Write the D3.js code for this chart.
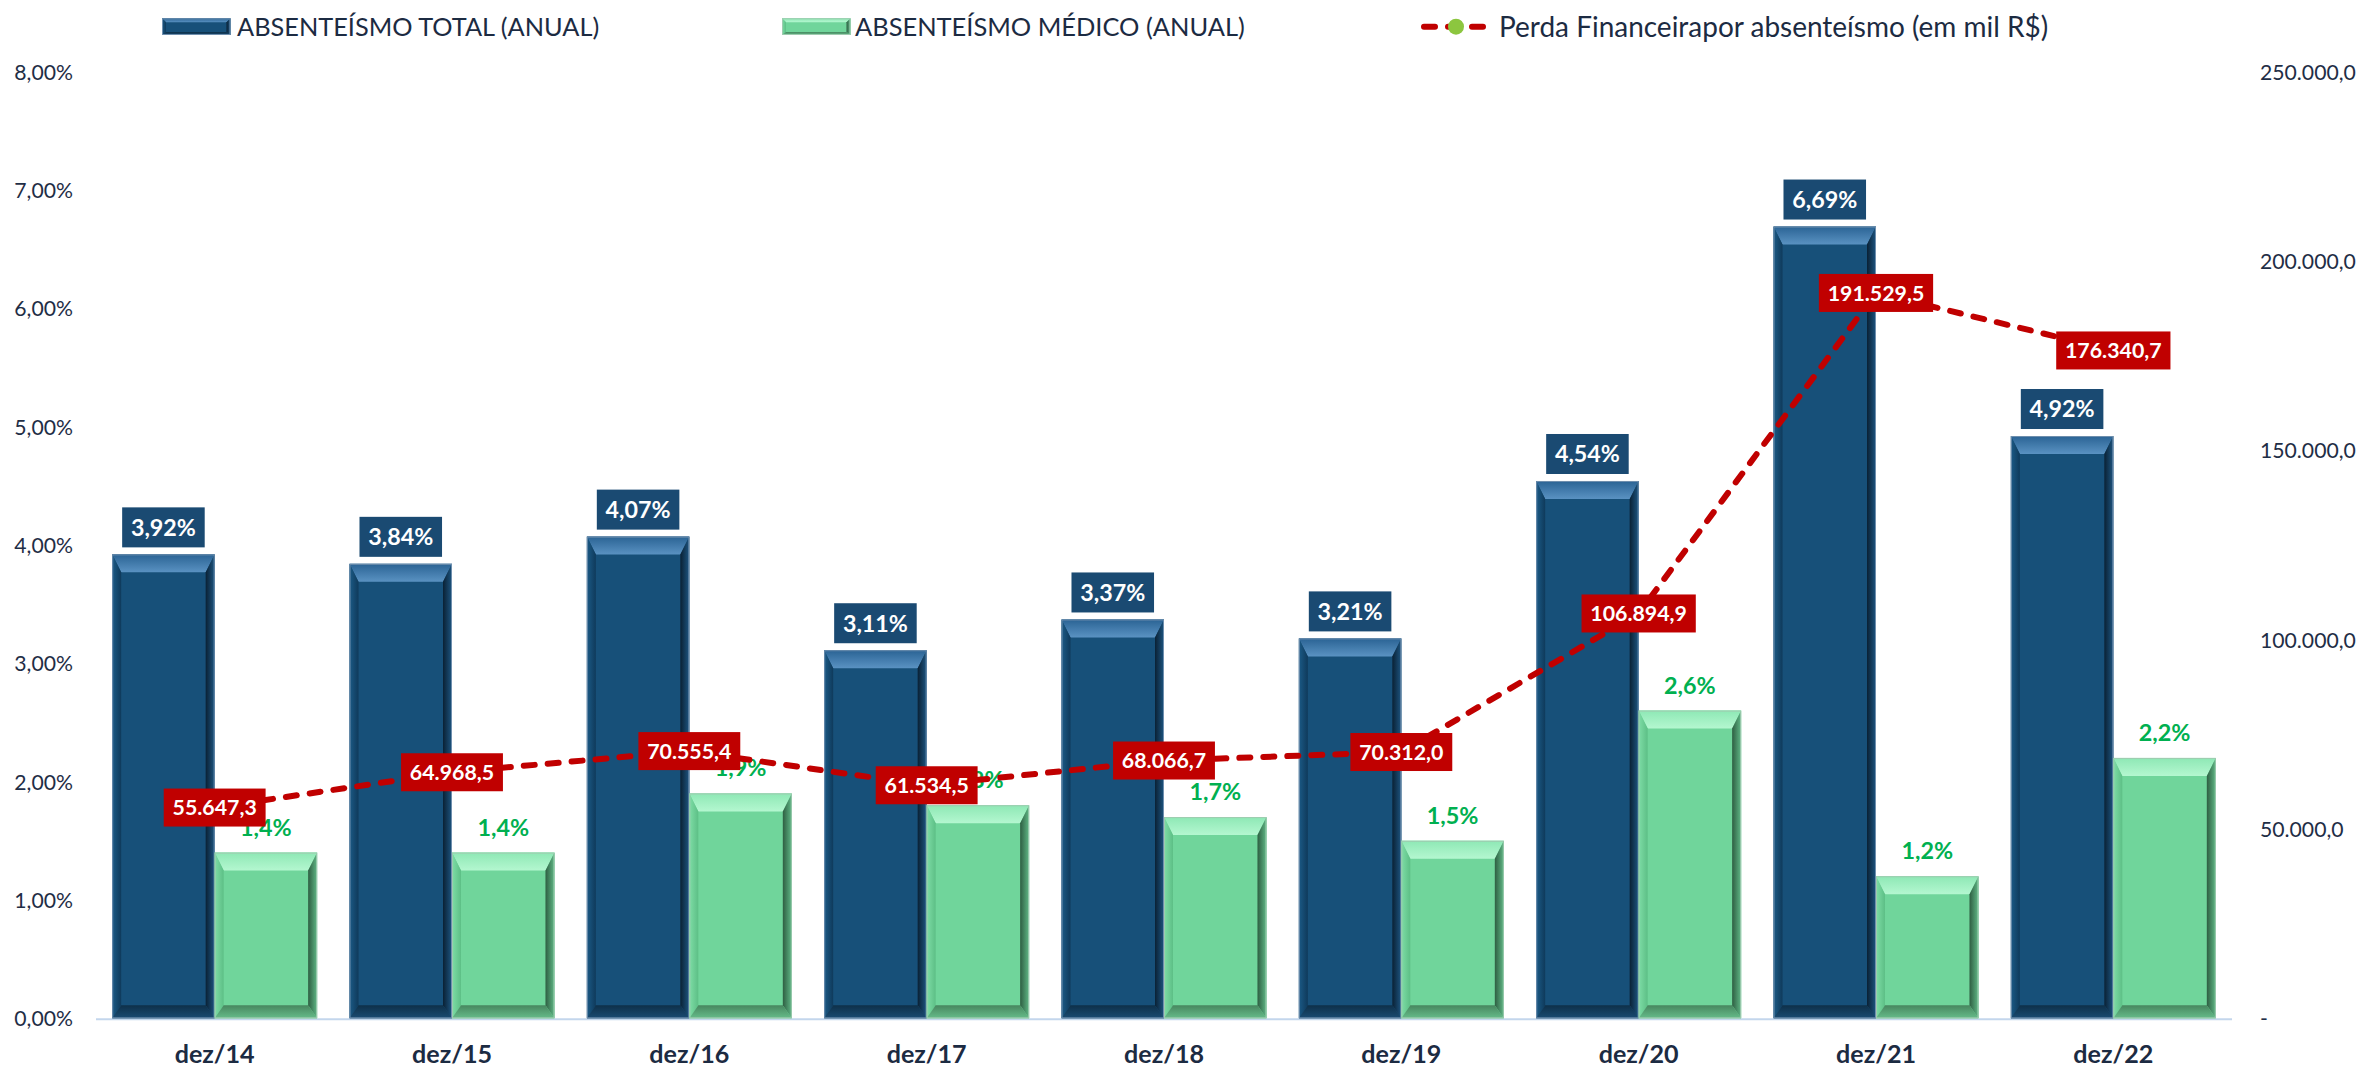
<!DOCTYPE html>
<html>
<head>
<meta charset="utf-8">
<script src="https://cdn.jsdelivr.net/npm/d3@7"></script>
<style>
  html, body { margin: 0; padding: 0; background: #ffffff; }
  svg { display: block; }
</style>
</head>
<body>
<svg id="chart" width="2361" height="1067"></svg>
<script>
// ---- data -------------------------------------------------------------
const categories = ["dez/14", "dez/15", "dez/16", "dez/17", "dez/18", "dez/19", "dez/20", "dez/21", "dez/22"];
const absTotal   = [3.92, 3.84, 4.07, 3.11, 3.37, 3.21, 4.54, 6.69, 4.92];          // % annual total
const absMedico  = [1.4, 1.4, 1.9, 1.8, 1.7, 1.5, 2.6, 1.2, 2.2];                    // % annual medical
const perda      = [55647.3, 64968.5, 70555.4, 61534.5, 68066.7, 70312.0, 106894.9, 191529.5, 176340.7]; // mil R$
const leftTicks  = [0, 1, 2, 3, 4, 5, 6, 7, 8];
const rightTicks = [0, 50000, 100000, 150000, 200000, 250000];
const legendLabels = ["ABSENTEÍSMO TOTAL (ANUAL)", "ABSENTEÍSMO MÉDICO (ANUAL)", "Perda Financeirapor absenteísmo (em mil R$)"];

// ---- formatting (pt-BR) ----------------------------------------------
const br = d3.formatLocale({ decimal: ",", thousands: ".", grouping: [3], currency: ["R$", ""] });
const f2 = br.format(",.2f"), f1 = br.format(",.1f");

// ---- layout -----------------------------------------------------------
const plotL = 96, plotR = 2232, plotTop = 71.5, plotBottom = 1018.3;
const FONT = "Lato, 'Open Sans', sans-serif";

const svg = d3.select("#chart");
const defs = svg.append("defs");

// font size that makes a sample string a given width
const ctx = document.createElement("canvas").getContext("2d");
function fitSize(str, weight, target) {
  ctx.font = `${weight} 100px Lato`;
  return 100 * target / ctx.measureText(str).width;
}
function textWidth(str, weight, size) {
  ctx.font = `${weight} ${size}px Lato`;
  return ctx.measureText(str).width;
}
const tickSize   = fitSize("8,00%", 400, 58.7);
const legendSizes = [fitSize(legendLabels[0], 400, 364), fitSize(legendLabels[1], 400, 390), fitSize(legendLabels[2], 400, 550)];
const catSize    = fitSize("dez/14", 700, 80);
const lossSize   = fitSize("106.894,9", 700, 96.7);
const totSize    = fitSize("6,69%", 700, 65);
const medSize    = fitSize("2,6%", 700, 51.7);

// ---- scales -----------------------------------------------------------
const x0 = d3.scaleBand().domain(categories).range([plotL, plotR]).padding(0);
const x1 = d3.scaleBand().domain(["total", "medico"]).range([0, x0.bandwidth()]).paddingInner(0).paddingOuter(0.158);
const yL = d3.scaleLinear().domain([0, 8]).range([plotBottom, plotTop]);
const yR = d3.scaleLinear().domain([0, 250000]).range([plotBottom, plotTop]);

// ---- bevel styles -----------------------------------------------------
const styles = {
  total: {
    face: "#175079", edge: "#6F8FAE",
    top: ["#2A6394", "#5A92C2"], left: ["#1B5A86", "#0F3A5B"],
    right: ["#0A2134", "#1D5581"], bottom: ["#0E3049", "#1A4B72"]
  },
  medico: {
    face: "#70D59B", edge: "#9FCBB0",
    top: ["#8EE8B5", "#B4F7D0"], left: ["#7EDDA6", "#5DBF86"],
    right: ["#2E5E42", "#60B886"], bottom: ["#47875F", "#66BC8A"]
  }
};
function grad(id, stops, vertical) {
  const g = defs.append("linearGradient").attr("id", id)
    .attr("x1", 0).attr("y1", 0).attr("x2", vertical ? 0 : 1).attr("y2", vertical ? 1 : 0);
  g.append("stop").attr("offset", "0%").attr("stop-color", stops[0]);
  g.append("stop").attr("offset", "100%").attr("stop-color", stops[1]);
}
Object.entries(styles).forEach(([k, s]) => {
  grad(`g-${k}-top`, s.top, true);
  grad(`g-${k}-left`, s.left, false);
  grad(`g-${k}-right`, s.right, false);
  grad(`g-${k}-bottom`, s.bottom, true);
});

// a bevelled rectangle: face plus four trapezoid edges
function bevelRect(g, key, x, y, w, h, bt, bs, bb) {
  const s = styles[key];
  const grp = g.append("g");
  grp.append("rect").attr("x", x).attr("y", y).attr("width", w).attr("height", h).attr("fill", s.face);
  const poly = (pts, fill) => grp.append("polygon").attr("points", pts.map(p => p.join(",")).join(" ")).attr("fill", fill);
  poly([[x, y], [x + w, y], [x + w - bs, y + bt], [x + bs, y + bt]], `url(#g-${key}-top)`);
  poly([[x, y], [x + bs, y + bt], [x + bs, y + h - bb], [x, y + h]], `url(#g-${key}-left)`);
  poly([[x + w - bs, y + bt], [x + w, y], [x + w, y + h], [x + w - bs, y + h - bb]], `url(#g-${key}-right)`);
  poly([[x + bs, y + h - bb], [x + w - bs, y + h - bb], [x + w, y + h], [x, y + h]], `url(#g-${key}-bottom)`);
  grp.append("rect").attr("x", x + 0.5).attr("y", y + 0.5).attr("width", w - 1).attr("height", h - 1)
    .attr("fill", "none").attr("stroke", s.edge).attr("stroke-width", 1);
  return grp;
}

// ---- axes -------------------------------------------------------------
const axisColor = "#1F2E46";
const leftAxis = svg.append("g").attr("transform", `translate(${plotL},0)`)
  .call(d3.axisLeft(yL).tickValues(leftTicks).tickFormat(v => f2(v) + "%").tickSize(0).tickPadding(23));
leftAxis.select(".domain").remove();
leftAxis.selectAll("text").attr("font-family", FONT).attr("font-size", tickSize).attr("fill", axisColor)
  .attr("dy", "0.36em");

const rightAxis = svg.append("g").attr("transform", `translate(${plotR},0)`)
  .call(d3.axisRight(yR).tickValues(rightTicks).tickFormat(v => v === 0 ? "-" : f1(v)).tickSize(0).tickPadding(28));
rightAxis.select(".domain").remove();
rightAxis.selectAll("text").attr("font-family", FONT).attr("font-size", tickSize).attr("fill", axisColor)
  .attr("dy", "0.36em");

const bottomAxis = svg.append("g").attr("transform", `translate(0,${plotBottom})`)
  .call(d3.axisBottom(x0).tickSize(0).tickPadding(0));
bottomAxis.select(".domain").remove();
bottomAxis.selectAll("text").attr("font-family", FONT).attr("font-size", catSize).attr("font-weight", 700)
  .attr("fill", "#1C2B42").attr("dy", 0).attr("y", 1054 - plotBottom + 0.36 * catSize);

// category axis line
svg.append("line").attr("x1", plotL).attr("x2", plotR).attr("y1", plotBottom + 1).attr("y2", plotBottom + 1)
  .attr("stroke", "#C3D6EC").attr("stroke-width", 2);

// ---- bars -------------------------------------------------------------
const bars = svg.append("g");
categories.forEach((c, i) => {
  const xt = x0(c) + x1("total"), xm = x0(c) + x1("medico"), bw = x1.bandwidth();
  const yt = yL(absTotal[i]), ym = yL(absMedico[i]);
  bevelRect(bars, "total", xt, yt, bw, plotBottom - yt, 18, 9, 13);
  bevelRect(bars, "medico", xm, ym, bw, plotBottom - ym, 18, 9, 13);
});

// ---- medical labels (behind the line labels) ---------------------------
const medLabels = svg.append("g");
categories.forEach((c, i) => {
  medLabels.append("text")
    .attr("x", x0(c) + x1("medico") + x1.bandwidth() / 2)
    .attr("y", yL(absMedico[i]) - 17)
    .attr("text-anchor", "middle").attr("font-family", FONT).attr("font-weight", 700)
    .attr("font-size", medSize).attr("fill", "#00B050")
    .text(f1(absMedico[i]) + "%");
});

// ---- financial loss line ---------------------------------------------
const pts = categories.map((c, i) => [x0(c) + x0.bandwidth() / 2, yR(perda[i])]);
svg.append("path")
  .attr("d", d3.line()(pts))
  .attr("fill", "none").attr("stroke", "#C00000").attr("stroke-width", 6)
  .attr("stroke-dasharray", "11 13").attr("stroke-linecap", "round");
svg.append("g").selectAll("circle").data(pts).join("circle")
  .attr("cx", d => d[0]).attr("cy", d => d[1]).attr("r", 8).attr("fill", "#8CC63F");

// ---- total labels (boxes above bars) -----------------------------------
const padX = 8.8;
const totLabels = svg.append("g");
categories.forEach((c, i) => {
  const cx = x0(c) + x1("total") + x1.bandwidth() / 2;
  const cy = yL(absTotal[i]) - 7 - 20;
  const str = f2(absTotal[i]) + "%";
  const tw = textWidth(str, 700, totSize);
  totLabels.append("rect").attr("x", cx - tw / 2 - padX).attr("y", cy - 20)
    .attr("width", tw + 2 * padX).attr("height", 40).attr("fill", "#1A4A72");
  totLabels.append("text").attr("x", cx).attr("y", cy + 0.36 * totSize)
    .attr("text-anchor", "middle").attr("font-family", FONT).attr("font-weight", 700)
    .attr("font-size", totSize).attr("fill", "#ffffff").text(str);
});

// ---- loss labels (red boxes on points) ---------------------------------
const lossLabels = svg.append("g");
pts.forEach((p, i) => {
  const str = f1(perda[i]);
  const tw = textWidth(str, 700, lossSize);
  lossLabels.append("rect").attr("x", p[0] - tw / 2 - padX).attr("y", p[1] - 19)
    .attr("width", tw + 2 * padX).attr("height", 38).attr("fill", "#C00000");
  lossLabels.append("text").attr("x", p[0]).attr("y", p[1] + 0.36 * lossSize)
    .attr("text-anchor", "middle").attr("font-family", FONT).attr("font-weight", 700)
    .attr("font-size", lossSize).attr("fill", "#ffffff").text(str);
});

// ---- legend -----------------------------------------------------------
const legend = svg.append("g");
const legY = 26.7;
bevelRect(legend, "total", 162, 18.3, 68.5, 16.7, 4, 4, 3);
bevelRect(legend, "medico", 782, 18.3, 68.5, 16.7, 4, 4, 3);
legend.append("line").attr("x1", 1424).attr("x2", 1487).attr("y1", legY).attr("y2", legY)
  .attr("stroke", "#C00000").attr("stroke-width", 6).attr("stroke-dasharray", "11 13")
  .attr("stroke-linecap", "round");
legend.append("circle").attr("cx", 1456).attr("cy", legY).attr("r", 8).attr("fill", "#8CC63F");
[[237, 0], [855, 1], [1499, 2]].forEach(([lx, k]) => {
  legend.append("text").attr("x", lx).attr("y", legY + 0.36 * legendSizes[k])
    .attr("font-family", FONT).attr("font-size", legendSizes[k]).attr("fill", "#1C2B42").text(legendLabels[k]);
});
</script>
</body>
</html>
